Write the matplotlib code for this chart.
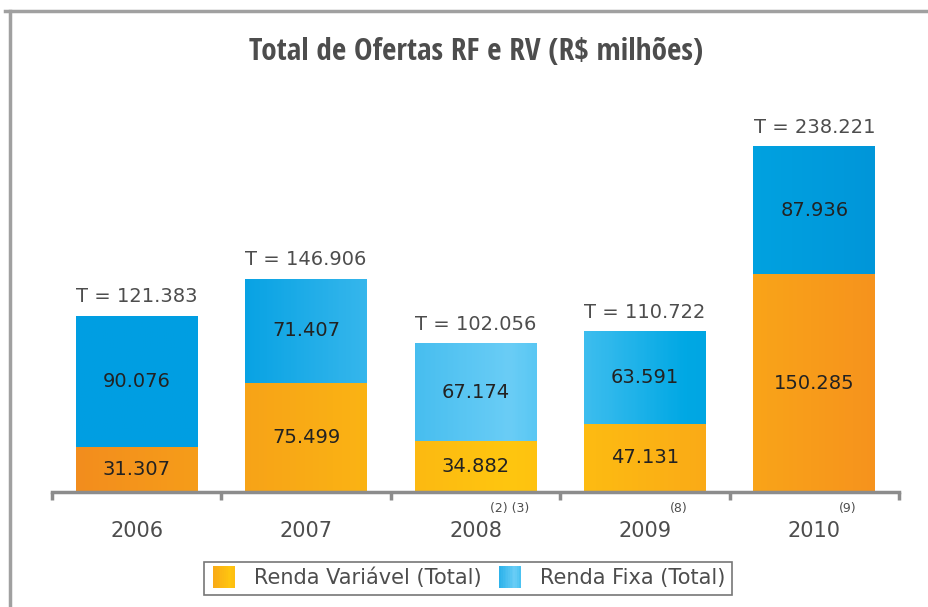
"""
Total de Ofertas RF e RV (R$ milhões) - stacked bars with gradient fills.
"""

import numpy as np
import matplotlib
matplotlib.use("Agg")
import matplotlib.pyplot as plt
from matplotlib import font_manager
from matplotlib.colors import LinearSegmentedColormap
from matplotlib.lines import Line2D
from matplotlib.patches import Rectangle
from matplotlib.legend_handler import HandlerBase


years = ["2006", "2007", "2008", "2009", "2010"]
renda_variavel = [31.307, 75.499, 34.882, 47.131, 150.285]
renda_fixa = [90.076, 71.407, 67.174, 63.591, 87.936]
totals = ["121.383", "146.906", "102.056", "110.722", "238.221"]
notes = ["", "", "(2) (3)", "(8)", "(9)"]

TEXT_GREY = "#4d4d4d"
AXIS_GREY = "#8c8c8c"

# gradients run across the whole chart, lightest a bit right of 2008
cmap_rv = LinearSegmentedColormap.from_list(
    "rv", [(0.0, "#f28a1e"), (0.54, "#ffc60f"), (1.0, "#f6901e")])
cmap_rf = LinearSegmentedColormap.from_list(
    "rf", [(0.0, "#009ee2"), (0.2, "#009fe2"), (0.54, "#6acdf6"),
           (0.75, "#00a8e4"), (1.0, "#0094d8")])

X0, X1 = -0.5, 4.5
BAR_W = 0.72

# narrow title font if one is around
installed = {f.name for f in font_manager.fontManager.ttflist}
title_family = [f for f in ["Liberation Sans Narrow", "DejaVu Sans Condensed",
                            "Open Sans Condensed"] if f in installed]
title_family += ["DejaVu Sans"]


def gradient_bar(ax, x, bottom, height, cmap):
    left, right = x - BAR_W / 2, x + BAR_W / 2
    pos = np.linspace((left - X0) / (X1 - X0), (right - X0) / (X1 - X0), 64)
    ax.imshow(pos[np.newaxis, :], cmap=cmap, vmin=0, vmax=1, aspect="auto",
              extent=(left, right, bottom, bottom + height), zorder=2,
              interpolation="bilinear")


class GradientHandler(HandlerBase):
    def __init__(self, cmap, lo, hi):
        super().__init__()
        self.cmap, self.lo, self.hi = cmap, lo, hi

    def create_artists(self, legend, orig_handle, xdescent, ydescent,
                       width, height, fontsize, trans):
        n = 12
        side = height * 1.45
        x0 = -xdescent + (width - side) / 2
        y0 = -ydescent - (side - height) / 2
        arts = []
        for i in range(n):
            c = self.cmap(self.lo + (self.hi - self.lo) * i / (n - 1))
            arts.append(Rectangle((x0 + side * i / n, y0), side / n + 0.3,
                                  side, facecolor=c, edgecolor="none",
                                  transform=trans))
        return arts


fig = plt.figure(figsize=(9.29, 6.07), dpi=100)
ax = fig.add_axes([52 / 929, 115 / 607, 847 / 929, 377 / 607])

x = np.arange(len(years))
for i in x:
    gradient_bar(ax, i, 0, renda_variavel[i], cmap_rv)
    gradient_bar(ax, i, renda_variavel[i], renda_fixa[i], cmap_rf)
    ax.text(i, renda_variavel[i] / 2, f"{renda_variavel[i]:.3f}",
            ha="center", va="center", fontsize=14, color="#222222", zorder=3)
    ax.text(i, renda_variavel[i] + renda_fixa[i] / 2, f"{renda_fixa[i]:.3f}",
            ha="center", va="center", fontsize=14, color="#222222", zorder=3)
    top = renda_variavel[i] + renda_fixa[i]
    ax.annotate(f"T = {totals[i]}", (i, top), xytext=(0, 7),
                textcoords="offset points", ha="center", va="bottom",
                fontsize=14, color=TEXT_GREY)
    if notes[i]:
        ax.annotate(notes[i], (i + 0.2, 0), xytext=(0, -12),
                    textcoords="offset points", ha="center", va="center",
                    fontsize=9, color=TEXT_GREY, annotation_clip=False)

ax.set_xlim(X0, X1)
ax.set_ylim(0, 260)
for side in ["top", "right", "left"]:
    ax.spines[side].set_visible(False)
ax.spines["bottom"].set_color(AXIS_GREY)
ax.spines["bottom"].set_linewidth(2.5)
ax.set_yticks([])
ax.set_xticks(x, labels=years)
ax.set_xticks(np.arange(X0, X1 + 0.01, 1), minor=True)
ax.tick_params(axis="x", which="major", length=0, pad=21, labelsize=15,
               labelcolor=TEXT_GREY)
ax.tick_params(axis="x", which="minor", length=6, width=2.5,
               color=AXIS_GREY, direction="out")

fig.text(476 / 929, 1 - 52 / 607, "Total de Ofertas RF e RV (R$ milhões)",
         ha="center", va="center", fontsize=22.5, fontweight="bold",
         fontstretch="condensed", family=title_family, color=TEXT_GREY)

# frame around the chart (top and left edges visible)
fig.add_artist(Line2D([5 / 929, 1], [1 - 11 / 607] * 2,
                      transform=fig.transFigure, color="#a0a0a0", lw=2.5))
fig.add_artist(Line2D([10 / 929] * 2, [0, 1 - 11 / 607],
                      transform=fig.transFigure, color="#a0a0a0", lw=2.5))

h_rv = Rectangle((0, 0), 1, 1)
h_rf = Rectangle((0, 0), 1, 1)
leg = fig.legend([h_rv, h_rf],
                 ["Renda Variável (Total)", "Renda Fixa (Total)"],
                 handler_map={h_rv: GradientHandler(cmap_rv, 0.3, 0.6),
                              h_rf: GradientHandler(cmap_rf, 0.35, 0.6)},
                 loc="center", bbox_to_anchor=(468 / 929, 1 - 578 / 607),
                 ncol=2, frameon=True, fancybox=False, fontsize=15,
                 handlelength=1.3, handletextpad=0.8, columnspacing=0.7,
                 borderpad=0.3, borderaxespad=0, labelcolor=TEXT_GREY)
leg.get_frame().set_edgecolor("#555555")
leg.get_frame().set_linewidth(1.2)

fig.savefig("out.png", dpi=100)
